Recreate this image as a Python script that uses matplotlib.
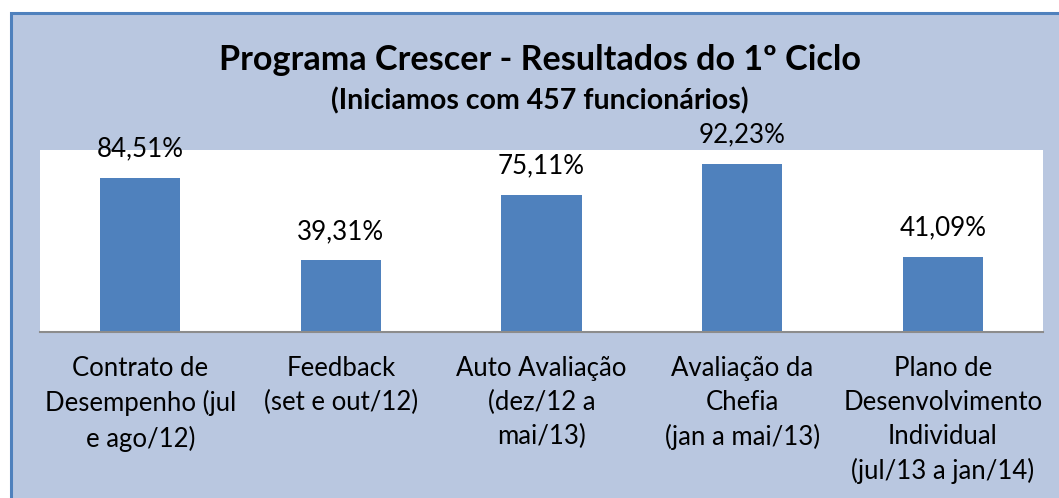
import matplotlib.pyplot as plt
from matplotlib.patches import Rectangle

categories = ["Contrato de\nDesempenho (jul\ne ago/12)",
              "Feedback\n(set e out/12)",
              "Auto Avaliação\n(dez/12 a\nmai/13)",
              "Avaliação da\nChefia\n(jan a mai/13)",
              "Plano de\nDesenvolvimento\nIndividual\n(jul/13 a jan/14)"]
values = [84.51, 39.31, 75.11, 92.23, 41.09]
labels = ["84,51%", "39,31%", "75,11%", "92,23%", "41,09%"]

plt.rcParams['font.family'] = ['Lato', 'DejaVu Sans']

fig = plt.figure(figsize=(10.59, 4.98), dpi=100)
fig.patch.set_facecolor("white")

# chart area background with blue border (cut on right/bottom)
bg = Rectangle((11 / 1059, -0.05), 1.1, 1 - 13 / 498 + 0.05, transform=fig.transFigure,
               facecolor="#B9C7E0", edgecolor="#4F81BD", linewidth=2.2, zorder=-5)
fig.patches.append(bg)

ax = fig.add_axes([40 / 1059, 1 - 332 / 498, (1043 - 40) / 1059, (332 - 150) / 498])
ax.set_zorder(1)
ax.set_facecolor("white")
x = range(len(values))
ax.bar(x, values, width=0.4, color="#4F81BD", zorder=2)
for i, v in enumerate(values):
    ax.text(i, v + 16, labels[i], ha="center", va="center", fontsize=18.7,
            color="black", clip_on=False)

ax.set_xlim(-0.5, len(values) - 0.5)
ax.set_ylim(0, 100)
ax.set_xticks(list(x))
ax.set_xticklabels(categories, fontsize=18.5, linespacing=1.45, va="top")
ax.tick_params(axis="x", length=0, pad=17)
ax.set_yticks([])
for s in ["top", "left", "right"]:
    ax.spines[s].set_visible(False)
ax.spines["bottom"].set_color("#8C8C8C")
ax.spines["bottom"].set_linewidth(1.5)

fig.text(540 / 1059, 1 - 60 / 498, "Programa Crescer - Resultados do 1º Ciclo",
         ha="center", va="center", fontsize=24.6, fontweight="bold")
fig.text(540 / 1059, 1 - 101 / 498, "(Iniciamos com 457 funcionários)",
         ha="center", va="center", fontsize=20.5, fontweight="bold")

fig.savefig("out.png", dpi=100)
